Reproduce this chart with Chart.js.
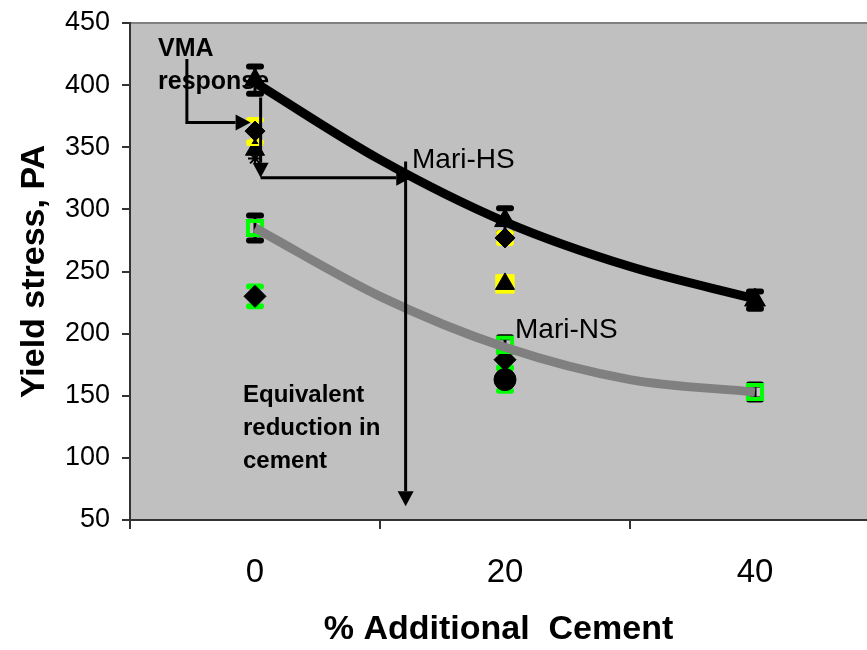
<!DOCTYPE html>
<html><head><meta charset="utf-8">
<script src="https://cdn.jsdelivr.net/npm/chart.js@4.4.1/dist/chart.umd.min.js"></script>
<style>html,body{margin:0;padding:0;background:#fff;}canvas{display:block;}</style>
</head><body>
<canvas id="c" width="867" height="650"></canvas>
<script>
const FONT = '"Liberation Sans", Arial, sans-serif';

// axis
const xTickValues = [0, 20, 40];
const xMin = -10, xMax = 48.96;
const yMin = 50, yMax = 450, yStep = 50;

// trend lines
const trendX = [0, 10, 20, 30, 40];
const hsTrend = [402, 340, 290, 254, 228];
const nsTrend = [285, 230, 189, 163, 153];

// Mari-HS markers
const hsTriX = [0, 20, 40];   const hsTriY = [404, 291, 227]; const hsTriErr = [11, 10, 7];
const hsDiaX = [0, 20];       const hsDiaY = [363, 277];      const hsDiaErr = [9, 4];
const hsSqX = [20];           const hsSqY = [240];
const hsTri2X = [0, 20];      const hsTri2Y = [348, 240];
const hsOpenTriX = [0];       const hsOpenTriY = [355];
const hsStarX = [0];          const hsStarY = [341];

// Mari-NS markers
const nsSqX = [0, 20, 40];    const nsSqY = [285, 191, 153];  const nsSqErr = [10, 6, 6];
const nsDiaX = [0, 20];       const nsDiaY = [230, 179];      const nsDiaErr = [8, 6];
const nsCircX = [20];         const nsCircY = [163];          const nsCircErr = [9];

// annotations (data coordinates)
const arrows = [
  { pts: [[-5.45, 421], [-5.45, 370], [-0.35, 370]] },
  { pts: [[0.45, 390], [0.45, 325.5]] },
  { pts: [[0.45, 325.5], [12.5, 325.5]] },
  { pts: [[12.05, 338.5], [12.05, 61]] }
];
const labels = [
  { text: 'VMA', x: -7.76, y: 423.5, bold: true, size: 25 },
  { text: 'response', x: -7.76, y: 397, bold: true, size: 25 },
  { text: 'Mari-HS', x: 12.56, y: 333.5, bold: false, size: 28 },
  { text: 'Mari-NS', x: 20.8, y: 196.2, bold: false, size: 28 },
  { text: 'Equivalent', x: -0.96, y: 144.8, bold: true, size: 24 },
  { text: 'reduction in', x: -0.96, y: 118.3, bold: true, size: 24 },
  { text: 'cement', x: -0.96, y: 91.8, bold: true, size: 24 }
];

const pts = (xs, ys) => xs.map((x, i) => ({ x, y: ys[i] }));

const datasets = [
  { data: pts(trendX, hsTrend), showLine: true, borderColor: '#000', borderWidth: 9, pointRadius: 0, tension: 0.4, cubicInterpolationMode: 'monotone', order: 0 },
  { data: pts(trendX, nsTrend), showLine: true, borderColor: '#808080', borderWidth: 9, pointRadius: 0, tension: 0.4, cubicInterpolationMode: 'monotone', order: 0 },
  { data: pts(hsTriX, hsTriY), errors: hsTriErr, errorColor: '#000', pointStyle: 'triangle', pointRadius: 12, backgroundColor: '#000', borderColor: '#000', order: 2 },
  { data: pts(hsDiaX, hsDiaY), errors: hsDiaErr, errorColor: '#FFFF00', pointStyle: 'rectRot', pointRadius: 10, backgroundColor: '#000', borderColor: '#000', order: 3 },
  { data: pts(hsTri2X, hsTri2Y), pointStyle: 'triangle', pointRadius: 11, backgroundColor: '#000', borderColor: '#000', order: 4 },
  { data: pts(hsSqX, hsSqY), pointStyle: 'rect', pointRadius: 13, backgroundColor: '#FFFF00', borderColor: '#FFFF00', order: 6 },
  { data: pts(hsOpenTriX, hsOpenTriY), pointStyle: 'triangle', pointRadius: 8, backgroundColor: 'rgba(0,0,0,0)', borderColor: '#FFFF00', pointBorderWidth: 2, order: 3 },
  { data: pts(hsStarX, hsStarY), pointStyle: 'star', pointRadius: 7, borderColor: '#000', pointBorderWidth: 2, order: 5 },
  { data: pts(nsSqX, nsSqY), errors: nsSqErr, errorColor: '#000', pointStyle: 'rect', pointRadius: 10, backgroundColor: 'rgba(0,0,0,0)', borderColor: '#00FF00', pointBorderWidth: 4, order: 2 },
  { data: pts(nsDiaX, nsDiaY), errors: nsDiaErr, errorColor: '#00FF00', pointStyle: 'rectRot', pointRadius: 11, backgroundColor: '#000', borderColor: '#000', order: 3 },
  { data: pts(nsCircX, nsCircY), errors: nsCircErr, errorColor: '#00FF00', pointStyle: 'circle', pointRadius: 11, backgroundColor: '#000', borderColor: '#000', order: 4 }
];

const plotBg = {
  id: 'plotBg',
  beforeDraw(chart) {
    const { ctx, chartArea: a } = chart;
    ctx.save();
    ctx.fillStyle = '#C0C0C0';
    ctx.fillRect(a.left, a.top, a.right - a.left, a.bottom - a.top);
    ctx.strokeStyle = '#808080';
    ctx.lineWidth = 2;
    ctx.beginPath(); ctx.moveTo(a.left, a.top); ctx.lineTo(a.right, a.top); ctx.stroke();
    ctx.restore();
  }
};

const errorBars = {
  id: 'errorBars',
  beforeDatasetsDraw(chart) {
    const { ctx, scales: { x, y } } = chart;
    chart.data.datasets.forEach(ds => {
      if (!ds.errors) return;
      ctx.save();
      ctx.strokeStyle = ds.errorColor;
      ctx.lineCap = 'round';
      ds.data.forEach((p, i) => {
        const e = ds.errors[i];
        if (e == null) return;
        const px = x.getPixelForValue(p.x);
        const t = y.getPixelForValue(p.y + e), b = y.getPixelForValue(p.y - e);
        ctx.lineWidth = 3;
        ctx.beginPath(); ctx.moveTo(px, t); ctx.lineTo(px, b); ctx.stroke();
        ctx.lineWidth = 6;
        ctx.beginPath();
        ctx.moveTo(px - 6, t); ctx.lineTo(px + 6, t);
        ctx.moveTo(px - 6, b); ctx.lineTo(px + 6, b);
        ctx.stroke();
      });
      ctx.restore();
    });
  }
};

const annotations = {
  id: 'annotations',
  afterDatasetsDraw(chart) {
    const { ctx, scales: { x, y } } = chart;
    ctx.save();
    ctx.strokeStyle = '#000'; ctx.fillStyle = '#000';
    ctx.lineWidth = 3; ctx.lineCap = 'butt';
    arrows.forEach(a => {
      const p = a.pts.map(([vx, vy]) => [x.getPixelForValue(vx), y.getPixelForValue(vy)]);
      const n = p.length;
      const [x1, y1] = p[n - 2], [x2, y2] = p[n - 1];
      const ang = Math.atan2(y2 - y1, x2 - x1);
      const L = 15, W = 8;
      const bx = x2 - Math.cos(ang) * L, by = y2 - Math.sin(ang) * L;
      ctx.beginPath();
      ctx.moveTo(p[0][0], p[0][1]);
      for (let i = 1; i < n - 1; i++) ctx.lineTo(p[i][0], p[i][1]);
      ctx.lineTo(bx, by);
      ctx.stroke();
      ctx.beginPath();
      ctx.moveTo(x2, y2);
      ctx.lineTo(bx - Math.sin(ang) * W, by + Math.cos(ang) * W);
      ctx.lineTo(bx + Math.sin(ang) * W, by - Math.cos(ang) * W);
      ctx.closePath(); ctx.fill();
    });
    ctx.textAlign = 'left'; ctx.textBaseline = 'alphabetic';
    labels.forEach(l => {
      ctx.font = (l.bold ? 'bold ' : '') + l.size + 'px ' + FONT;
      ctx.fillText(l.text, x.getPixelForValue(l.x), y.getPixelForValue(l.y));
    });
    ctx.restore();
  }
};

new Chart(document.getElementById('c'), {
  type: 'scatter',
  data: { datasets },
  options: {
    responsive: false,
    animation: false,
    layout: { autoPadding: false, padding: { top: 23, right: 0, left: 0, bottom: 0 } },
    plugins: { legend: { display: false }, tooltip: { enabled: false } },
    elements: { point: { borderWidth: 1 } },
    scales: {
      x: {
        type: 'linear', min: xMin, max: xMax,
        afterBuildTicks: s => { s.ticks = xTickValues.map(v => ({ value: v })); },
        afterFit: s => { s.height = 130; s.paddingLeft = 0; s.paddingRight = 0; },
        grid: { offset: true, drawOnChartArea: false, tickLength: 9, color: '#333', lineWidth: 2 },
        border: { color: '#333', width: 2 },
        ticks: { color: '#000', font: { family: FONT, size: 33 }, padding: 24, autoSkip: false, maxRotation: 0, callback: v => String(v) },
        title: { display: true, text: '% Additional  Cement', color: '#000', font: { family: FONT, size: 34, weight: 'bold' }, padding: { top: 0, bottom: 0 } }
      },
      y: {
        type: 'linear', min: yMin, max: yMax,
        afterFit: s => { s.width = 130; s.paddingTop = 0; s.paddingBottom = 0; },
        grid: { drawOnChartArea: false, tickLength: 8, color: '#333', lineWidth: 2 },
        border: { color: '#333', width: 2 },
        ticks: { stepSize: yStep, color: '#000', font: { family: FONT, size: 27 }, padding: 12 },
        title: { display: true, text: 'Yield stress, PA', color: '#000', font: { family: FONT, size: 34, weight: 'bold' }, padding: { top: 14, bottom: 0 } }
      }
    }
  },
  plugins: [plotBg, errorBars, annotations]
});
</script>
</body></html>
